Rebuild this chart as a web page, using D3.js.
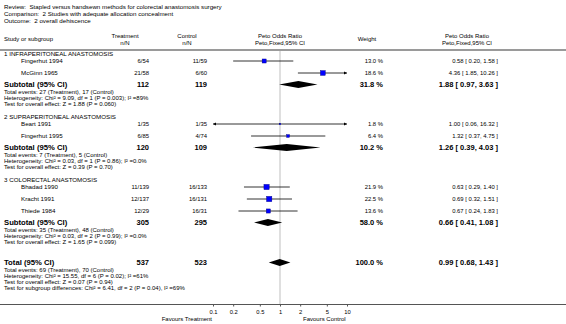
<!DOCTYPE html>
<html><head><meta charset="utf-8">
<script src="https://cdn.jsdelivr.net/npm/d3@7"></script>
<style>
body{margin:0;background:#fff}
svg{display:block}
text{font-family:"Liberation Sans",Arial,Helvetica,sans-serif;fill:#000;white-space:pre}
</style>
</head><body>
<svg id="c" width="566" height="324"></svg>
<script>
// ---------- data ----------
const titleLines = [
  "Review:  Stapled versus handsewn methods for colorectal anastomosis surgery",
  "Comparison:  2 Studies with adequate allocation concealment",
  "Outcome:  2 overall dehiscence"
];
const groupNames = ["1 INFRAPERITONEAL ANASTOMOSIS", "2 SUPRAPERITONEAL ANASTOMOSIS", "3 COLORECTAL ANASTOMOSIS"];
const studyGroup   = [0, 0, 1, 1, 2, 2, 2];
const studyNames   = ["Fingerhut 1994", "McGinn 1965", "Beart 1991", "Fingerhut 1995", "Bhadad 1990", "Kracht 1991", "Thiede 1984"];
const studyTreat   = ["6/54", "21/58", "1/35", "6/85", "11/139", "12/137", "12/29"];
const studyControl = ["11/59", "6/60", "1/35", "4/74", "16/133", "16/131", "16/31"];
const studyWeight  = [13.0, 18.6, 1.8, 6.4, 21.9, 22.5, 13.6];
const studyOR      = [0.58, 4.36, 1.00, 1.32, 0.63, 0.69, 0.67];
const studyLo      = [0.20, 1.85, 0.06, 0.37, 0.29, 0.32, 0.24];
const studyHi      = [1.58, 10.26, 16.32, 4.75, 1.40, 1.51, 1.83];

const subTreatN   = [112, 120, 305];
const subControlN = [119, 109, 295];
const subWeight   = [31.8, 10.2, 58.0];
const subOR       = [1.88, 1.26, 0.66];
const subLo       = [0.97, 0.39, 0.41];
const subHi       = [3.63, 4.03, 1.08];
const subEvents = [
  "Total events: 27 (Treatment), 17 (Control)",
  "Total events: 7 (Treatment), 5 (Control)",
  "Total events: 35 (Treatment), 48 (Control)"
];
const subHet = [
  "Heterogeneity: Chi\u00B2 = 9.09, df = 1 (P = 0.003); I\u00B2 =89%",
  "Heterogeneity: Chi\u00B2 = 0.03, df = 1 (P = 0.86); I\u00B2 =0.0%",
  "Heterogeneity: Chi\u00B2 = 0.03, df = 2 (P = 0.99); I\u00B2 =0.0%"
];
const subTest = [
  "Test for overall effect: Z = 1.88 (P = 0.060)",
  "Test for overall effect: Z = 0.39 (P = 0.70)",
  "Test for overall effect: Z = 1.65 (P = 0.099)"
];
const totalN = [537, 523];
const totalWeight = 100.0;
const totalOR = 0.99, totalLo = 0.68, totalHi = 1.43;
const totalNotes = [
  "Total events: 69 (Treatment), 70 (Control)",
  "Heterogeneity: Chi\u00B2 = 15.55, df = 6 (P = 0.02); I\u00B2 =61%",
  "Test for overall effect: Z = 0.07 (P = 0.94)",
  "Test for subgroup differences: Chi\u00B2 = 6.41, df = 2 (P = 0.04), I\u00B2 =69%"
];
const tickValues = [0.1, 0.2, 0.5, 1, 2, 5, 10];
const tickLabels = ["0.1", "0.2", "0.5", "1", "2", "5", "10"];
const favoursLabels = ["Favours Treatment", "Favours Control"];
const headers = {
  study: "Study or subgroup", treat: ["Treatment", "n/N"], control: ["Control", "n/N"],
  plot: ["Peto Odds Ratio", "Peto,Fixed,95% CI"], weight: "Weight", ci: ["Peto Odds Ratio", "Peto,Fixed,95% CI"]
};

// ---------- layout ----------
const W = 566, H = 324;
const svg = d3.select("#c");
const col = {left: 4, indent: 21, treat: 149, control: 207, weight: 383, ci: 498,
             treatH: 125, controlH: 187, weightH: 367, ciH: 467};
const x = d3.scaleLog().domain([0.1, 10]).range([213, 347]);
const xc = v => x(Math.max(0.1, Math.min(10, v)));
const sz = d3.scaleSqrt().domain([0, 25]).range([0, 5.6]);
const fmtCI = (o, l, h) => `${o.toFixed(2)} [ ${l.toFixed(2)}, ${h.toFixed(2)} ]`;
const fmtW = w => `${w.toFixed(1)} %`;
const axisY = 304.5, headerLineY = 50;
const fs = {title: 6.2, name: 6.2, val: 5.9, note: 6, bold: 7.7, boldVal: 7.5, head: 6};

function txt(s, xx, yy, opt = {}) {
  return svg.append("text").attr("x", xx).attr("y", yy).attr("dy", "0.35em")
    .attr("font-size", opt.size || fs.name).attr("font-weight", opt.bold ? "bold" : null)
    .attr("text-anchor", opt.anchor || "start").text(s);
}

// title
titleLines.forEach((t, i) => txt(t, col.left, 7 + i * 7, {size: fs.title}));
// headers
txt(headers.study, col.left, 38.5, {size: fs.head});
txt(headers.treat[0], col.treatH, 36, {anchor: "middle", size: fs.head});
txt(headers.treat[1], col.treatH, 43, {anchor: "middle", size: fs.head});
txt(headers.control[0], col.controlH, 36, {anchor: "middle", size: fs.head});
txt(headers.control[1], col.controlH, 43, {anchor: "middle", size: fs.head});
txt(headers.plot[0], x(1), 36, {anchor: "middle", size: fs.head});
txt(headers.plot[1], x(1), 43, {anchor: "middle", size: fs.head});
txt(headers.weight, col.weightH, 38.5, {anchor: "middle", size: fs.head});
txt(headers.ci[0], col.ciH, 36, {anchor: "middle", size: fs.head});
txt(headers.ci[1], col.ciH, 43, {anchor: "middle", size: fs.head});

svg.append("line").attr("x1", 0).attr("x2", W).attr("y1", headerLineY).attr("y2", headerLineY)
  .attr("stroke", "#9a9a9a").attr("stroke-width", 2);

// row positions
let y = 54;
const groupY = [], studyY = [], subY = [];
groupNames.forEach((g, gi) => {
  groupY[gi] = y;
  y += 7;
  studyGroup.forEach((sg, si) => { if (sg === gi) { studyY[si] = y; y += 12; } });
  subY[gi] = y - 0.5;
  y = subY[gi] + 7.5 + 12 + 13;
});
const totalY = subY[2] + 40;

// line of no effect
svg.append("line").attr("x1", x(1)).attr("x2", x(1)).attr("y1", headerLineY + 1).attr("y2", axisY)
  .attr("stroke", "#d4d4d4").attr("stroke-width", 1.5);

function arrow(xx, yy, dir) {
  const a = 3, b = 1.6;
  svg.append("path").attr("d", `M${xx},${yy}L${xx - dir * a},${yy - b}L${xx - dir * a},${yy + b}Z`).attr("fill", "#000");
}
function diamond(o, l, h, yy) {
  svg.append("path")
    .attr("d", `M${x(l)},${yy}L${x(o)},${yy - 3.6}L${x(h)},${yy}L${x(o)},${yy + 3.6}Z`)
    .attr("fill", "#000");
}

// groups
groupNames.forEach((g, gi) => {
  txt(g, col.left, groupY[gi], {size: fs.name});
  const sy = subY[gi];
  txt("Subtotal (95% CI)", col.left, sy, {size: fs.bold, bold: true});
  txt(String(subTreatN[gi]), col.treat, sy, {size: fs.boldVal, bold: true, anchor: "end"});
  txt(String(subControlN[gi]), col.control, sy, {size: fs.boldVal, bold: true, anchor: "end"});
  txt(fmtW(subWeight[gi]), col.weight, sy, {size: fs.boldVal, bold: true, anchor: "end"});
  txt(fmtCI(subOR[gi], subLo[gi], subHi[gi]), col.ci, sy, {size: fs.boldVal, bold: true, anchor: "end"});
  [subEvents[gi], subHet[gi], subTest[gi]].forEach((t, k) => txt(t, col.left, sy + 7.5 + k * 6, {size: fs.note}));
  diamond(subOR[gi], subLo[gi], subHi[gi], sy);
});

// studies
studyNames.forEach((s, i) => {
  const yy = studyY[i];
  txt(s, col.indent, yy, {size: fs.name});
  txt(studyTreat[i], col.treat, yy, {anchor: "end", size: fs.val});
  txt(studyControl[i], col.control, yy, {anchor: "end", size: fs.val});
  txt(fmtW(studyWeight[i]), col.weight, yy, {anchor: "end", size: fs.val});
  txt(fmtCI(studyOR[i], studyLo[i], studyHi[i]), col.ci, yy, {anchor: "end", size: fs.val});
  const x1 = xc(studyLo[i]), x2 = xc(studyHi[i]);
  svg.append("line").attr("x1", x1).attr("x2", x2).attr("y1", yy).attr("y2", yy)
    .attr("stroke", "#000").attr("stroke-width", 0.8);
  if (studyLo[i] < 0.1) arrow(x1, yy, -1);
  if (studyHi[i] > 10) arrow(x2, yy, 1);
  const s2 = Math.max(1.2, sz(studyWeight[i]));
  svg.append("rect").attr("x", x(studyOR[i]) - s2 / 2).attr("y", yy - s2 / 2)
    .attr("width", s2).attr("height", s2).attr("fill", "#0000ff")
    .attr("stroke", "#00007a").attr("stroke-width", 0.4);
});

// total
txt("Total (95% CI)", col.left, totalY, {size: fs.bold, bold: true});
txt(String(totalN[0]), col.treat, totalY, {size: fs.boldVal, bold: true, anchor: "end"});
txt(String(totalN[1]), col.control, totalY, {size: fs.boldVal, bold: true, anchor: "end"});
txt(fmtW(totalWeight), col.weight, totalY, {size: fs.boldVal, bold: true, anchor: "end"});
txt(fmtCI(totalOR, totalLo, totalHi), col.ci, totalY, {size: fs.boldVal, bold: true, anchor: "end"});
totalNotes.forEach((t, k) => txt(t, col.left, totalY + 7.5 + k * 6, {size: fs.note}));
diamond(totalOR, totalLo, totalHi, totalY);

// bottom line + axis
svg.append("line").attr("x1", 0).attr("x2", W).attr("y1", axisY).attr("y2", axisY)
  .attr("stroke", "#555").attr("stroke-width", 1);
const ax = svg.append("g").attr("transform", `translate(0,${axisY})`)
  .call(d3.axisBottom(x).tickValues(tickValues).tickFormat((d, i) => tickLabels[i]).tickSize(2).tickPadding(3));
ax.select(".domain").remove();
ax.selectAll("line").attr("stroke", "#555");
ax.selectAll("text").attr("font-size", 5.8).attr("font-family", "Liberation Sans, Arial, sans-serif");
txt(favoursLabels[0], 212, 319, {anchor: "end", size: 6});
txt(favoursLabels[1], 303, 319, {size: 6});
</script>
</body></html>
